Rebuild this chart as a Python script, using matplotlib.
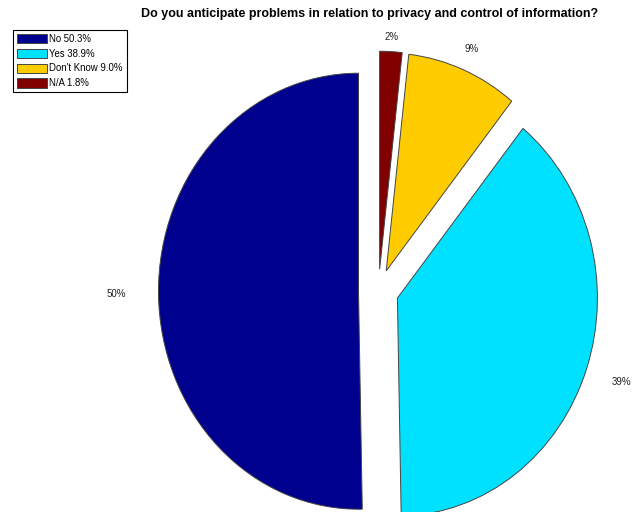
import numpy as np
import matplotlib as mpl
mpl.use('Agg')
import matplotlib.pyplot as plt

categories = ["No", "Yes", "Don't Know", "N/A"]
values = [50.3, 38.9, 9.0, 1.8]
pct_labels = ["50%", "39%", "9%", "2%"]
colors = ['#00008F', '#00E1FF', '#FFCC00', '#800000']
label_dist = [1.31, 1.285, 1.205, 1.165]

plt.rcParams['font.family'] = ['Liberation Sans', 'DejaVu Sans']

fig = plt.figure(figsize=(6.33, 5.12), dpi=100)
ax = fig.add_axes([0, 0, 1, 1])

wedges, texts = ax.pie(values, labels=pct_labels, colors=colors, startangle=90,
                       counterclock=True, explode=[0.1] * 4,
                       wedgeprops=dict(edgecolor='#444444', linewidth=0.7),
                       textprops=dict(fontsize=7, color='#222222'))
# place the percentage labels like the original (centred on the mid-angle)
for w, t, d in zip(wedges, texts, label_dist):
    mid = np.deg2rad((w.theta1 + w.theta2) / 2)
    t.set_position((d * np.cos(mid), d * np.sin(mid)))
    t.set_ha('center')
    t.set_va('center')

ax.set_aspect('auto')
ax.set_xlim(-1.8925, 1.2725)
ax.set_ylim(-1.0138, 1.3349)
ax.axis('off')

leg = ax.legend(wedges, ["%s %.1f%%" % (c, v) for c, v in zip(categories, values)],
                loc='upper left', bbox_to_anchor=(13 / 633, 1 - 30 / 512),
                bbox_transform=fig.transFigure, borderaxespad=0, fontsize=6.9,
                handlelength=3.1, handleheight=1.1, labelspacing=0.5,
                handletextpad=0.3, borderpad=0.4, fancybox=False, framealpha=1)
leg.get_frame().set_edgecolor('black')
leg.get_frame().set_linewidth(0.8)

fig.text(370 / 633, 1 - 14 / 512,
         'Do you anticipate problems in relation to privacy and control of information?',
         ha='center', va='center', fontsize=9, fontweight='bold')

fig.savefig('out.png', dpi=100)
